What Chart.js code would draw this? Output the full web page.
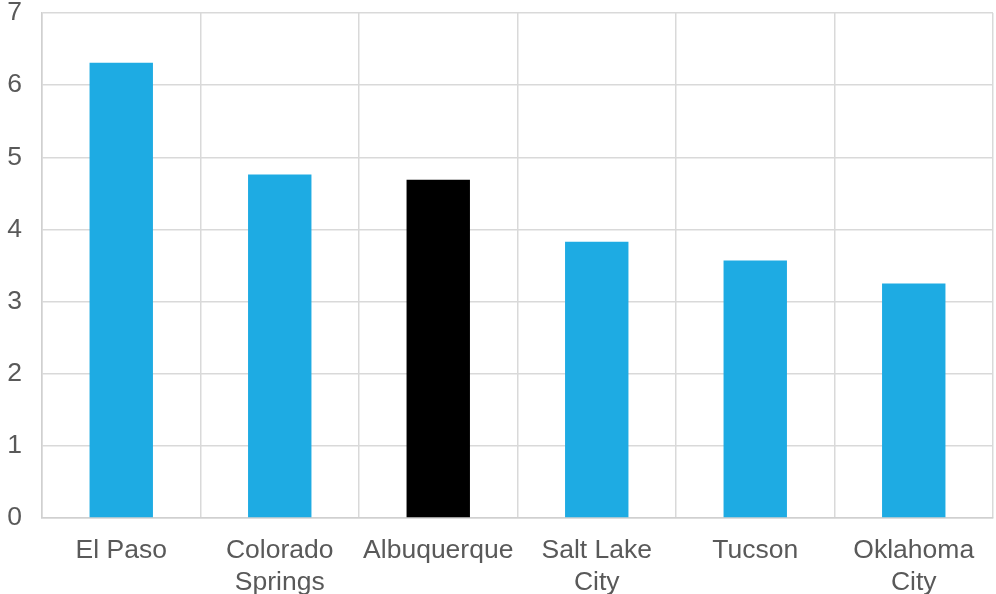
<!DOCTYPE html>
<html>
<head>
<meta charset="utf-8">
<script src="https://cdn.jsdelivr.net/npm/chart.js@4/dist/chart.umd.min.js"></script>
<style>
  html, body { margin: 0; padding: 0; background: #fff; }
  #wrap { width: 996px; height: 594px; }
</style>
</head>
<body>
<div id="wrap"><canvas id="chart" width="996" height="594"></canvas></div>
<script>
const cities = [["El Paso"], ["Colorado", "Springs"], ["Albuquerque"], ["Salt Lake", "City"], ["Tucson"], ["Oklahoma", "City"]];
const values = [6.31, 4.76, 4.69, 3.83, 3.57, 3.25];
const barColors = ["#1eabe3", "#1eabe3", "#000000", "#1eabe3", "#1eabe3", "#1eabe3"];
const yTicks = [0, 1, 2, 3, 4, 5, 6, 7];

const ctx = document.getElementById("chart").getContext("2d");
new Chart(ctx, {
    type: "bar",
    data: {
        labels: cities,
        datasets: [{
            data: values,
            backgroundColor: barColors,
            barPercentage: 0.4,
            categoryPercentage: 1.0
        }]
    },
    options: {
        responsive: false,
        animation: false,
        layout: { padding: { top: 13, right: 3, left: 0, bottom: 0 } },
        plugins: {
            legend: { display: false },
            tooltip: { enabled: false }
        },
        scales: {
            x: {
                afterFit: axis => { axis.height = 76; },
                grid: { color: "#d9d9d9", lineWidth: 1.5, drawTicks: false, offset: true },
                border: { color: "#d0d0d0", width: 1.5 },
                ticks: {
                    color: "#595959",
                    font: { family: "'Liberation Sans', Arial", size: 26.5 },
                    padding: 17,
                    maxRotation: 0,
                    autoSkip: false
                }
            },
            y: {
                min: 0,
                max: 7,
                afterBuildTicks: axis => { axis.ticks = yTicks.map(v => ({ value: v })); },
                afterFit: axis => {
                    axis.width = 42;
                    axis.paddingTop = 0;
                    axis.paddingBottom = 0;
                },
                grid: { color: "#d9d9d9", lineWidth: 1.5, drawTicks: false },
                border: { color: "#d0d0d0", width: 1.5 },
                ticks: {
                    color: "#595959",
                    font: { family: "'Liberation Sans', Arial", size: 26.5 },
                    padding: 20
                }
            }
        }
    }
});
</script>
</body>
</html>
